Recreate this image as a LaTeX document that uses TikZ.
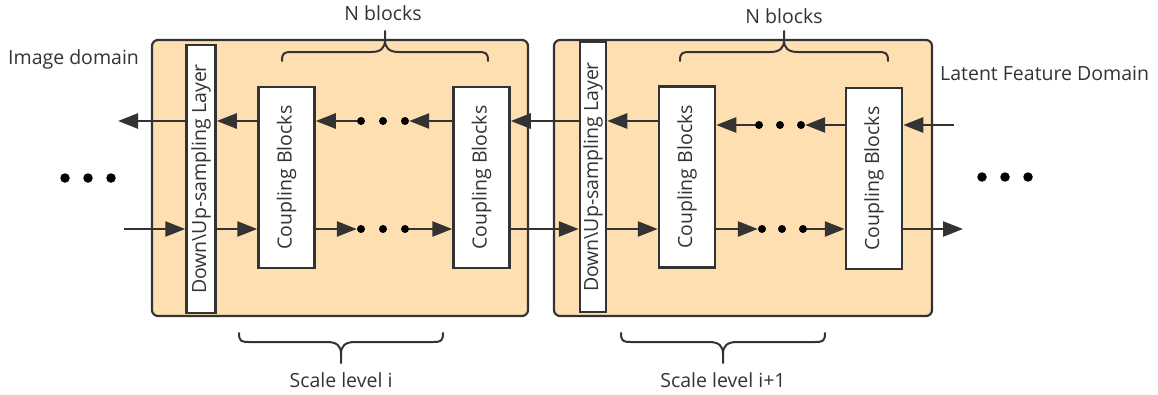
\documentclass[tikz,border=0pt]{standalone}
\usepackage{fontspec}
\usepackage{graphicx}
\setmainfont{Open Sans}
\usetikzlibrary{arrows.meta}
\definecolor{inkgray}{HTML}{333333}
\definecolor{levelfill}{HTML}{FEDFB2}
\tikzset{
  curly/.pic={
    \draw[bracestroke] (-#1,9) .. controls (-#1,1) and (-#1+2,0) .. (-#1+10,0)
      -- (-14,0) .. controls (-4,0) and (0,-4) .. (0,-12) -- (0,-21);
    \draw[bracestroke] (#1,9) .. controls (#1,1) and (#1-2,0) .. (#1-10,0)
      -- (14,0) .. controls (4,0) and (0,-4) .. (0,-12);
  }
}
\begin{document}
\begin{tikzpicture}[x=1pt,y=-1pt,
  every node/.style={font=\fontsize{19.5}{23}\selectfont, text=inkgray},
  level/.style={draw=inkgray, line width=2.2pt, fill=levelfill, rounded corners=6pt, inner sep=0pt},
  sampler/.style={draw=inkgray, line width=2.5pt, fill=white, inner sep=0pt, minimum width=29pt, minimum height=268pt},
  coupler/.style={draw=inkgray, line width=2.5pt, fill=white, inner sep=0pt, minimum width=56pt, minimum height=181pt},
  dot/.style={circle, fill=black, inner sep=0pt, minimum size=8pt},
  bigdot/.style={circle, fill=black, inner sep=0pt, minimum size=9.5pt},
  flow/.style={draw=inkgray, line width=2.6pt, -{Triangle[length=20pt,width=15pt]}},
  bracestroke/.style={draw=inkgray, line width=2pt, line cap=round}
]
\useasboundingbox (0,0) rectangle (1158,394);

% scale levels
\node[level, minimum width=376pt, minimum height=276pt] (lvA) at (340,178) {};
\node[level, minimum width=378pt, minimum height=276pt] (lvB) at (743,178) {};

% layers and coupling blocks
\node[sampler] (du1) at (201,179) {\rotatebox{90}{Down\textbackslash Up-sampling Layer}};
\node[coupler] (cb1) at (286.5,177.5) {\rotatebox{90}{Coupling Blocks}};
\node[coupler] (cb2) at (481.5,177.5) {\rotatebox{90}{Coupling Blocks}};
\node[sampler, minimum width=26pt, minimum height=270pt] (du2) at (593,177) {\rotatebox{90}{Down\textbackslash Up-sampling Layer}};
\node[coupler] (cb3) at (687,177) {\rotatebox{90}{Coupling Blocks}};
\node[coupler] (cb4) at (874,178.5) {\rotatebox{90}{Coupling Blocks}};

% row heights
\coordinate (tl) at (0,121);
\coordinate (tr) at (0,125);
\coordinate (bt) at (0,229);

% dots between coupling blocks
\node[dot] (a1) at (361,121) {};
\node[dot] (a2) at (383,121) {};
\node[dot] (a3) at (405,121) {};
\node[dot] (b1) at (361,229) {};
\node[dot] (b2) at (383,229) {};
\node[dot] (b3) at (405,229) {};
\node[dot] (c1) at (759,125) {};
\node[dot] (c2) at (780,125) {};
\node[dot] (c3) at (801,125) {};
\node[dot] (e1) at (762,229) {};
\node[dot] (e2) at (782,229) {};
\node[dot] (e3) at (803,229) {};

% outer ellipses
\node[bigdot] (l1) at (65,178) {};
\node[bigdot] (l2) at (88,178) {};
\node[bigdot] (l3) at (111,178) {};
\node[bigdot] (r1) at (982,177) {};
\node[bigdot] (r2) at (1005,177) {};
\node[bigdot] (r3) at (1028,177) {};

% free ends
\coordinate (outL) at (118,121);
\coordinate (inL) at (124,229);
\coordinate (inR) at (954,125);
\coordinate (outR) at (963,229);

% upper row (right to left)
\draw[flow] (inR) -- (cb4.east |- tr);
\draw[flow] (cb4.west |- tr) -- (c3);
\draw[flow] (c1) -- (cb3.east |- tr);
\draw[flow] (cb3.west |- tl) -- (du2.east |- tl);
\draw[flow] (du2.west |- tl) -- (cb2.east |- tl);
\draw[flow] (cb2.west |- tl) -- (a3);
\draw[flow] (a1) -- (cb1.east |- tl);
\draw[flow] (cb1.west |- tl) -- (du1.east |- tl);
\draw[flow] (du1.west |- tl) -- (outL);

% lower row (left to right)
\draw[flow] (inL) -- (du1.west |- bt);
\draw[flow] (du1.east |- bt) -- (cb1.west |- bt);
\draw[flow] (cb1.east |- bt) -- (b1);
\draw[flow] (b3) -- (cb2.west |- bt);
\draw[flow] (cb2.east |- bt) -- (du2.west |- bt);
\draw[flow] (du2.east |- bt) -- (cb3.west |- bt);
\draw[flow] (cb3.east |- bt) -- (e1);
\draw[flow] (e3) -- (cb4.west |- bt);
\draw[flow] (cb4.east |- bt) -- (outR);

% braces
\pic at (385,52) {curly=103};
\pic at (784,52) {curly=104};
\pic[yscale=-1] at (341,342) {curly=102};
\pic[yscale=-1] at (723,342) {curly=102};

% labels
\node (nb1) at (383,13) {N blocks};
\node (nb2) at (784,16) {N blocks};
\node (sl1) at (341,380) {Scale level i};
\node (sl2) at (723,380) {Scale level i+1};
\node[anchor=west, inner sep=0pt] (imgdom) at (8,59) {Image domain};
\node[anchor=west, inner sep=0pt] (latdom) at (940,73) {Latent Feature Domain};
\end{tikzpicture}
\end{document}
